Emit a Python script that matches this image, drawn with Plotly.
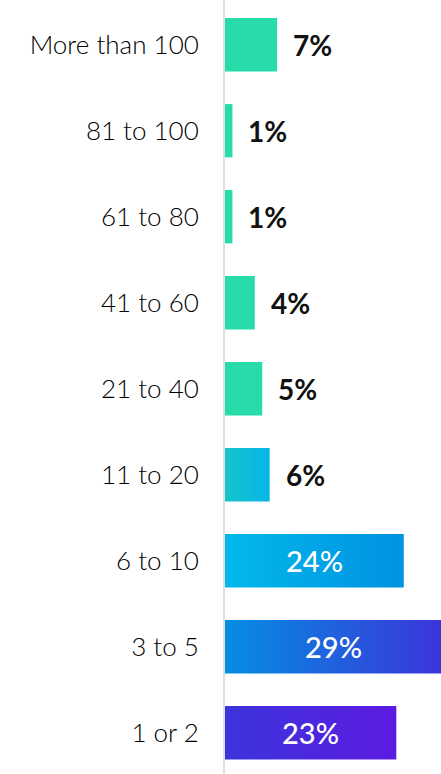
import plotly.graph_objects as go

# Share of respondents by count bucket (top to bottom)
categories = ["More than 100", "81 to 100", "61 to 80", "41 to 60", "21 to 40",
              "11 to 20", "6 to 10", "3 to 5", "1 or 2"]
values = [7, 1, 1, 4, 5, 6, 24, 29, 23]
labels = ["7%", "1%", "1%", "4%", "5%", "6%", "24%", "29%", "23%"]

# Left/right colours of each bar's horizontal gradient
grad_left = ["#27dcaa", "#27dcaa", "#27dcaa", "#27dcaa", "#27dcaa",
             "#17c5c9", "#02b9ea", "#048ee2", "#3c34dc"]
grad_right = ["#27dcaa", "#27dcaa", "#27dcaa", "#27dcaa", "#27dcaa",
              "#05b6e8", "#0091e2", "#3b35d9", "#5c1be1"]
inside = [False, False, False, False, False, False, True, True, True]

half = 0.31  # half bar thickness in category units

fig = go.Figure()
for i, (v, c1, c2) in enumerate(zip(values, grad_left, grad_right)):
    fig.add_trace(go.Scatter(
        x=[0, v, v, 0, 0],
        y=[i - half, i - half, i + half, i + half, i - half],
        mode="none",
        fill="toself",
        fillgradient=dict(type="horizontal", colorscale=[[0, c1], [1, c2]]),
        hoverinfo="skip",
        showlegend=False,
    ))

for i, (v, lab, ins) in enumerate(zip(values, labels, inside)):
    if ins:
        fig.add_annotation(x=v / 2, y=i, text=lab, showarrow=False,
                           xanchor="center", yanchor="middle",
                           font=dict(family="Lato", size=29, color="white", weight=500))
    else:
        fig.add_annotation(x=v, y=i, text=f"<b>{lab}</b>", showarrow=False,
                           xanchor="left", yanchor="middle", xshift=14,
                           font=dict(family="Lato", size=28, color="#111111"))

fig.update_layout(
    width=441, height=774,
    margin=dict(l=225, r=0, t=0, b=0),
    plot_bgcolor="white", paper_bgcolor="white",
    xaxis=dict(range=[0, 29], visible=False, fixedrange=True),
    yaxis=dict(
        range=[8.48, -0.52],
        tickmode="array",
        tickvals=list(range(len(categories))),
        ticktext=categories,
        tickfont=dict(family="Lato", size=26, color="#000000", weight=300),
        ticks="", ticklabelstandoff=19,
        showline=True, linecolor="#dedede", linewidth=2,
        showgrid=False, zeroline=False, fixedrange=True,
    ),
)

fig.write_html("out.html")
